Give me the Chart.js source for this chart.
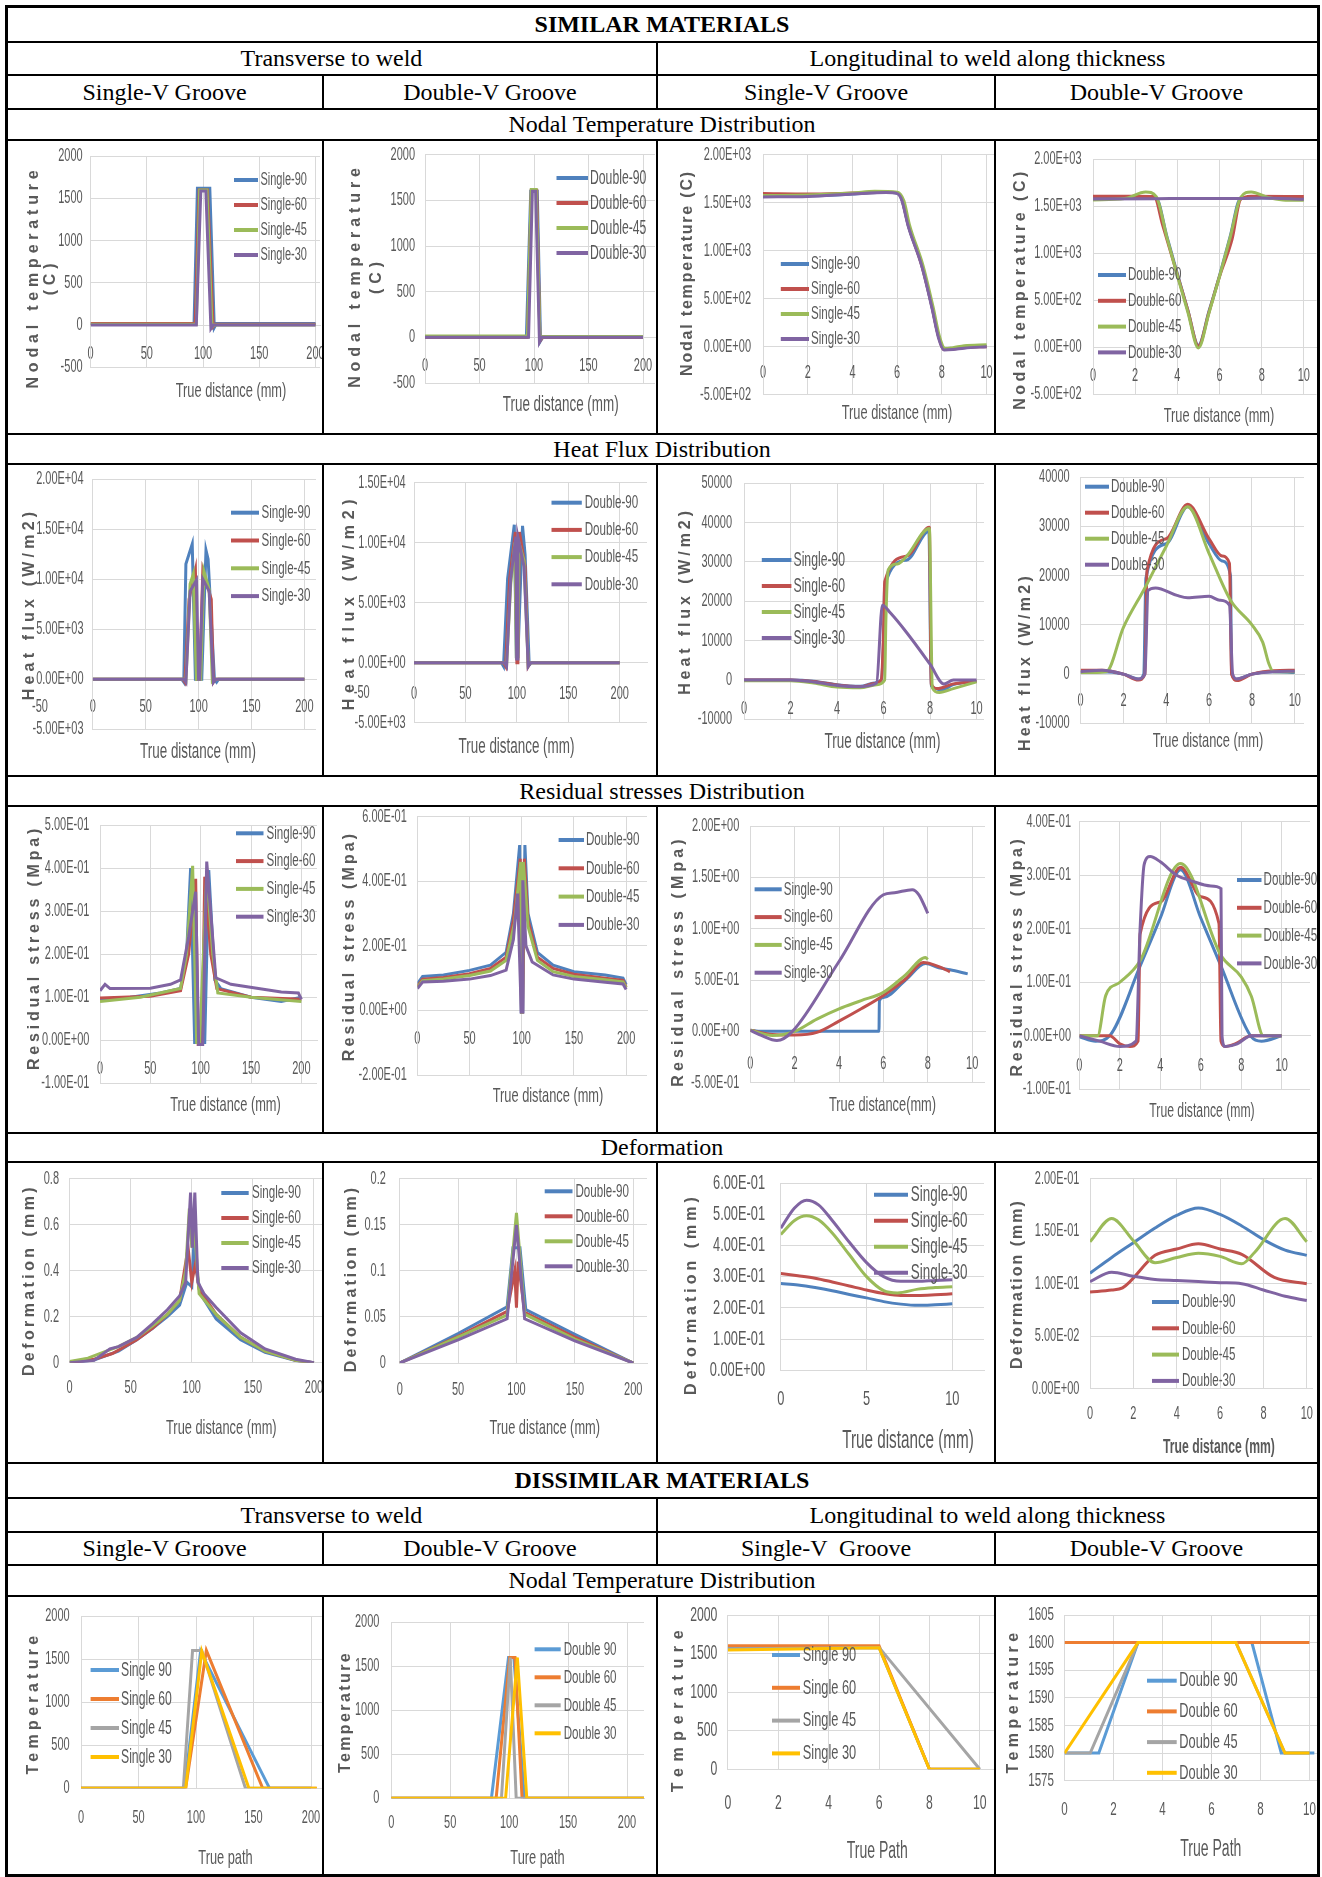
<!DOCTYPE html>
<html>
<head>
<meta charset="utf-8">
<title>Welding simulation results</title>
<script src="https://cdn.jsdelivr.net/npm/chart.js@4.4.1/dist/chart.umd.min.js"></script>
<style>
  html, body { margin: 0; padding: 0; background: #fff; }
  body { position: relative; width: 1322px; height: 1877px; overflow: hidden; }
  canvas { position: absolute; }
  .hl, .vl { position: absolute; background: #000; }
  .cap { position: absolute; text-align: center; font-family: 'Liberation Serif', 'Times New Roman', serif;
         font-size: 24px; color: #000; white-space: pre; }
  .cap.b { font-weight: bold; }
</style>
</head>
<body>
<script>
const FONT = "'Liberation Sans', Arial, sans-serif";
const SQUEEZE = 0.61;   // the sheet's labels are set in a very narrow face
const GRID = '#d9d9d9';
const INK = '#595959';
const OLD = ['#4f81bd', '#c0504d', '#9bbb59', '#8064a2'];
const NEW = ['#5b9bd5', '#ed7d31', '#a5a5a5', '#ffc000'];

const SINGLE = ['Single-90', 'Single-60', 'Single-45', 'Single-30'];
const DOUBLE = ['Double-90', 'Double-60', 'Double-45', 'Double-30'];
const SINGLE_D = ['Single 90', 'Single 60', 'Single 45', 'Single 30'];
const DOUBLE_D = ['Double 90', 'Double 60', 'Double 45', 'Double 30'];

// ---- similar materials : nodal temperature (x, C) ----
const A1_90 = [[0,20],[92,20],[95,1620],[106,1620],[110,-30],[112,20],[200,20]];
const A1_60 = [[0,20],[93,20],[96.5,1600],[104,1600],[109,-20],[111,10],[200,10]];
const A1_45 = [[0,10],[94,10],[97,1600],[103.5,1600],[108,-20],[110,0],[200,0]];
const A1_30 = [[0,0],[94,0],[98,1590],[102.5,1590],[107,-40],[109,0],[200,0]];

const A2_90 = [[0,0],[93,0],[97,1600],[103,1600],[106,-40],[108,0],[200,0]];
const A2_60 = [[0,0],[94,0],[97.5,1610],[102.5,1610],[105.5,-40],[108,0],[200,0]];
const A2_45 = [[0,15],[94,15],[97.5,1620],[102,1620],[105.5,-30],[108,10],[200,10]];
const A2_30 = [[0,0],[95,0],[98.5,1600],[101.5,1600],[105,-50],[107,0],[200,0]];

const A3_90 = [[0,1565],[2,1570],[4,1590],[5.5,1610],[6,1600],[6.2,1540],[6.5,1260],[7.1,850],[7.55,420],[7.85,110],[8.1,-25],[8.5,-20],[9,-5],[10,5]];
const A3_60 = [[0,1595],[2,1590],[4,1600],[5.5,1610],[6,1605],[6.2,1545],[6.5,1265],[7.1,845],[7.55,425],[7.85,105],[8.1,-30],[8.5,-25],[9,-5],[10,0]];
const A3_45 = [[0,1575],[2,1580],[4,1600],[5,1620],[6,1610],[6.3,1520],[6.55,1270],[7.15,850],[7.6,420],[7.9,100],[8.15,-20],[8.5,-10],[9,10],[10,20]];
const A3_30 = [[0,1560],[2,1565],[4,1590],[5.5,1605],[6,1595],[6.2,1530],[6.5,1250],[7.1,840],[7.55,410],[7.85,90],[8.1,-35],[8.5,-30],[9,-15],[10,0]];

const A4_90 = [[0,1580],[1,1580],[2,1585],[3,1580],[3.5,1180],[4,780],[4.5,390],[5,20],[5.5,380],[6,760],[6.5,1170],[7,1580],[8,1585],[9,1580],[10,1575]];
const A4_60 = [[0,1605],[2,1605],[2.9,1600],[3.3,1300],[4,770],[4.5,390],[5,10],[5.5,370],[6,750],[6.6,1150],[7,1570],[7.5,1605],[10,1600]];
const A4_45 = [[0,1565],[1.5,1580],[2.5,1650],[3,1600],[3.5,1170],[4,760],[4.5,370],[5,-10],[5.5,360],[6,750],[6.5,1160],[7,1590],[7.5,1650],[8.3,1590],[9,1565],[10,1560]];
const A4_30 = [[0,1575],[3,1578],[5,1580],[7,1580],[8,1585],[10,1572]];

// ---- similar materials : heat flux (x, W/m2) ----
const B1_90 = [[0,0],[84,0],[86,-300],[88,11500],[94,13500],[97,0],[103,0],[107,12900],[109,12000],[115,0],[117,-300],[119,0],[200,0]];
const B1_60 = [[0,0],[85,0],[87,-300],[91,8000],[97,10900],[99,0],[101,0],[104,10900],[112,8000],[114,-300],[116,0],[200,0]];
const B1_45 = [[0,0],[86,0],[88,-200],[92,9500],[95,10500],[98,0],[102,0],[105,10800],[110,9000],[113,-200],[115,0],[200,0]];
const B1_30 = [[0,0],[86,0],[88,-300],[92,8800],[98,9900],[100,0],[101,0],[104,10000],[110,8800],[114,-300],[116,0],[200,0]];

const B2_90 = [[0,0],[85,0],[87,-300],[91,7000],[97.5,11500],[99.5,500],[101,500],[105.5,11400],[108,9000],[112,-200],[114,0],[200,0]];
const B2_60 = [[0,0],[87,0],[89,-300],[93,7000],[98.5,10900],[100,0],[101,0],[102.5,10900],[108,8000],[111,-300],[113,0],[200,0]];
const B2_45 = [[0,0],[88,0],[90,-200],[94,6500],[98,10000],[99.5,500],[101,500],[102,10000],[107,8500],[111,-200],[113,0],[200,0]];
const B2_30 = [[0,0],[88,0],[90,-300],[94,7000],[99,10500],[99.8,300],[100.5,300],[101,10500],[107,8000],[111,-300],[113,0],[200,0]];

const B3_90 = [[0,0],[2,0],[3,-300],[4,-1200],[5,-1600],[5.6,-800],[5.9,0],[6,10000],[6.05,24000],[7,30500],[7.95,37800],[8.05,-1500],[8.5,-2500],[9,-1200],[10,-300]];
const B3_60 = [[0,0],[2,0],[3,-400],[4,-1300],[5,-1700],[5.6,-900],[5.9,0],[6,12000],[6.05,25000],[7,31500],[7.97,38800],[8.05,-1000],[8.3,-2200],[9,-1000],[10,-300]];
const B3_45 = [[0,-200],[2,-200],[3,-800],[4,-1800],[5,-2000],[5.7,-1200],[6.05,0],[6.1,15000],[6.2,28000],[6.6,29500],[7,31500],[7.97,38500],[8.1,-2000],[8.4,-3200],[9,-2200],[10,-500]];
const B3_30 = [[0,0],[2,0],[3,-500],[4,-1400],[5,-1700],[5.7,-800],[5.95,19000],[6.3,17000],[7,12000],[8,4000],[8.6,-1000],[9,0],[10,0]];

const B4_90 = [[0,300],[1,500],[2,0],[2.7,-1000],[2.95,0],[3.05,19500],[4,26500],[5,34000],[6,26500],[6.6,23000],[7,20000],[7.05,0],[7.3,-1000],[8,0],[9,500],[10,300]];
const B4_60 = [[0,800],[1,800],[2,0],[2.7,-1200],[3,0],[3.1,21000],[4,27500],[5,34500],[6,27500],[6.6,24000],[6.95,22500],[7.05,0],[7.3,-1300],[8,0],[9,700],[10,800]];
const B4_45 = [[0,300],[1.2,500],[2,9500],[3,17500],[4,26000],[5,34000],[6,24500],[7,15000],[8,10000],[8.5,6500],[8.8,2000],[9,500],[10,500]];
const B4_30 = [[0,500],[1,800],[2,0],[2.7,-1000],[3,0],[3.15,17000],[3.5,17500],[4.5,16000],[5,15500],[6,15800],[6.5,15000],[6.95,14000],[7.1,0],[7.3,-1000],[8,0],[9,500],[10,600]];

// ---- similar materials : residual stress (x, MPa) ----
const C1_90 = [[0,0.095],[30,0.1],[60,0.11],[80,0.12],[86,0.2],[90,0.4],[94,-0.005],[104,-0.005],[108,0.395],[114,0.14],[120,0.12],[150,0.1],[180,0.09],[200,0.1]];
const C1_60 = [[0,0.098],[50,0.102],[80,0.115],[88,0.2],[95,0.375],[97.5,-0.01],[101.5,-0.01],[104,0.38],[110,0.2],[116,0.12],[150,0.1],[200,0.095]];
const C1_45 = [[0,0.09],[40,0.1],[80,0.12],[86,0.2],[92,0.405],[96,-0.005],[99,-0.005],[106,0.385],[112,0.2],[117,0.11],[150,0.1],[200,0.09]];
const C1_30 = [[0,0.115],[5,0.13],[10,0.12],[50,0.121],[70,0.13],[80,0.14],[88,0.24],[95,0.345],[98,-0.01],[102,-0.01],[106,0.415],[115,0.145],[130,0.13],[180,0.112],[197,0.11],[200,0.095]];

const C2_90 = [[0,0.083],[5,0.105],[25,0.11],[50,0.124],[70,0.14],[85,0.18],[92,0.3],[98,0.512],[99.5,-0.005],[101,-0.005],[103,0.512],[106,0.3],[115,0.18],[130,0.14],[150,0.12],[180,0.11],[197,0.1],[200,0.08]];
const C2_60 = [[0,0.075],[5,0.097],[25,0.102],[50,0.114],[70,0.13],[85,0.165],[92,0.28],[98.5,0.47],[99.7,-0.005],[100.8,-0.005],[102.5,0.47],[106,0.28],[115,0.165],[130,0.13],[150,0.112],[180,0.1],[197,0.093],[200,0.072]];
const C2_45 = [[0,0.072],[5,0.092],[25,0.097],[50,0.108],[70,0.122],[85,0.155],[93,0.27],[99,0.46],[99.8,-0.005],[100.6,-0.005],[101.5,0.46],[106,0.26],[115,0.155],[130,0.12],[150,0.105],[180,0.095],[197,0.088],[200,0.07]];
const C2_30 = [[0,0.068],[5,0.088],[25,0.09],[50,0.097],[70,0.108],[85,0.125],[92,0.22],[96,0.362],[99.5,-0.005],[100.3,-0.005],[101,0.403],[104,0.2],[110,0.15],[130,0.11],[150,0.097],[180,0.087],[197,0.082],[200,0.065]];

const C3_90 = [[0,0.01],[0.5,0],[2,0],[4,0],[5.8,0],[5.82,0.3],[6,0.33],[7,0.5],[7.9,0.66],[8.5,0.62],[9,0.6],[9.8,0.56]];
const C3_60 = [[0,0.01],[1,-0.03],[2,-0.035],[3,-0.01],[4,0.1],[5,0.22],[6,0.35],[7,0.51],[7.8,0.67],[8.5,0.63],[9,0.58]];
const C3_45 = [[0,0.01],[1,-0.04],[2,0],[3,0.12],[4,0.22],[5,0.3],[6,0.38],[7,0.55],[7.9,0.72],[8,0.7]];
const C3_30 = [[0,0.01],[0.5,-0.04],[1.2,-0.09],[1.9,0],[4,0.68],[6,1.33],[6.5,1.35],[7.3,1.38],[7.6,1.33],[8,1.15]];

const C4_90 = [[0,-0.002],[0.8,-0.01],[1.5,0],[3,0.13],[4,0.22],[5,0.31],[6,0.22],[7,0.13],[8.5,-0.002],[9,-0.01],[10,0]];
const C4_60 = [[0,0],[1.5,0],[2,-0.015],[2.5,-0.02],[2.9,-0.01],[3,0.19],[4,0.25],[5,0.315],[6,0.26],[6.9,0.21],[7,-0.01],[7.2,-0.02],[7.7,-0.015],[8.5,0],[10,0]];
const C4_45 = [[0,0],[0.9,0],[1.3,0.075],[2,0.1],[3,0.14],[5,0.322],[7,0.15],[8,0.11],[8.5,0.074],[9.1,0],[10,0]];
const C4_30 = [[0,0],[1,-0.01],[2,-0.02],[2.8,-0.01],[3,0.2],[3.2,0.32],[3.5,0.335],[4,0.325],[4.8,0.3],[5.5,0.29],[6.5,0.28],[7,0.275],[7.05,0],[7.2,-0.02],[7.8,-0.015],[8.5,0],[10,0]];

// ---- similar materials : deformation (x, mm) ----
const D1_90 = [[0,0],[20,0.012],[40,0.05],[55,0.1],[68,0.15],[80,0.2],[90,0.25],[96,0.35],[100,0.33],[102,0.55],[104,0.4],[107,0.3],[120,0.19],[140,0.1],[160,0.045],[185,0.01],[200,0]];
const D1_60 = [[0,0],[20,0.015],[35,0.04],[55,0.1],[68,0.15],[80,0.21],[90,0.27],[97,0.5],[100,0.35],[103,0.43],[106,0.32],[120,0.21],[140,0.11],[160,0.05],[185,0.01],[200,0]];
const D1_45 = [[0,0.005],[15,0.02],[30,0.05],[40,0.07],[55,0.11],[68,0.16],[80,0.21],[90,0.27],[95,0.4],[98,0.67],[100,0.5],[102,0.6],[106,0.3],[120,0.21],[140,0.11],[160,0.05],[185,0.01],[200,0]];
const D1_30 = [[0,0],[20,0.01],[33,0.06],[40,0.07],[55,0.11],[68,0.17],[80,0.23],[90,0.29],[95,0.35],[99,0.74],[100.5,0.5],[102.5,0.74],[105,0.35],[110,0.3],[120,0.24],[140,0.13],[160,0.06],[185,0.015],[200,0]];

const D2_90 = [[0,0],[50,0.032],[92,0.061],[97,0.125],[103,0.125],[108,0.058],[150,0.031],[200,0]];
const D2_60 = [[0,0],[50,0.029],[92,0.056],[98.5,0.1],[100,0.06],[101.5,0.11],[107,0.055],[150,0.028],[200,0]];
const D2_45 = [[0,0],[50,0.028],[92,0.052],[100,0.163],[107,0.053],[150,0.026],[200,0]];
const D2_30 = [[0,0],[50,0.025],[92,0.048],[100,0.15],[107,0.048],[150,0.024],[200,0]];

const D3_90 = [[0,0.278],[1,0.273],[2,0.265],[3,0.255],[4,0.243],[5,0.232],[6,0.22],[7,0.212],[8,0.208],[9,0.21],[10,0.213]];
const D3_60 = [[0,0.31],[1,0.303],[2,0.295],[3,0.283],[4,0.27],[5,0.257],[6,0.246],[7,0.24],[8,0.24],[9,0.242],[10,0.245]];
const D3_45 = [[0,0.435],[0.8,0.48],[1.5,0.495],[2.2,0.482],[3,0.44],[4,0.37],[5,0.3],[6,0.255],[6.8,0.248],[8,0.26],[9,0.265],[10,0.268]];
const D3_30 = [[0,0.455],[0.8,0.52],[1.5,0.545],[2.2,0.53],[3,0.48],[4,0.41],[5,0.345],[6,0.3],[7,0.285],[8,0.285],[9,0.288],[10,0.29]];

const D4_90 = [[0,0.11],[1,0.125],[2,0.139],[3,0.153],[4,0.165],[5,0.172],[6,0.166],[7,0.155],[8,0.142],[9,0.132],[10,0.127]];
const D4_60 = [[0,0.092],[1,0.094],[1.5,0.096],[3,0.127],[4,0.133],[5,0.138],[6,0.133],[7,0.128],[8.5,0.106],[10,0.1]];
const D4_45 = [[0,0.14],[1,0.162],[2,0.141],[3,0.12],[4,0.125],[5,0.129],[6,0.126],[7,0.119],[7.6,0.13],[9,0.162],[10,0.14]];
const D4_30 = [[0,0.102],[1,0.111],[2,0.107],[3,0.104],[4,0.103],[5,0.102],[6,0.101],[7,0.1],[8,0.094],[9,0.088],[10,0.084]];

// ---- dissimilar materials : temperature along path ----
const E1_90 = [[0,0],[90,0],[104,1590],[164,0],[200,0]];
const E1_60 = [[0,0],[91,0],[109,1600],[158,0],[205,0]];
const E1_45 = [[0,0],[89,0],[97,1600],[105,1600],[143,0],[200,0]];
const E1_30 = [[0,0],[91,0],[105,1590],[146,0],[205,0]];

const E2_90 = [[0,0],[85,0],[99.5,1600],[104,1600],[113,0],[215,0]];
const E2_60 = [[0,0],[89,0],[100.5,1600],[105,1600],[111,0],[215,0]];
const E2_45 = [[0,0],[93.5,0],[101,1600],[106,0],[113,0],[215,0]];
const E2_30 = [[0,0],[97,0],[107,1600],[115,0],[215,0]];

const E3_90 = [[0,1565],[6,1580],[8,0],[10,0]];
const E3_60 = [[0,1600],[6,1600],[8,0],[10,0]];
const E3_45 = [[0,1560],[6,1580],[10,0]];
const E3_30 = [[0,1545],[6,1575],[8,0],[10,0]];

const E4_90 = [[0,1580],[1.4,1580],[3,1600],[7.65,1600],[8.85,1580],[10.2,1580]];
const E4_60 = [[0,1600],[10,1600]];
const E4_45 = [[0,1580],[1.05,1580],[3,1600],[7,1600],[9,1580],[10,1580]];
const E4_30 = [[0,1580],[3,1600],[7,1600],[9,1580],[10,1580]];

// ---- page layout (table cells) ----
const COLS = [[6, 323], [323, 657], [657, 995], [995, 1318]];
const ROWS = [[140, 434], [464, 776], [806, 1133], [1162, 1463], [1596, 1875]];

const CAPTIONS = [
  [6, 42, [[6, 1318, 'SIMILAR MATERIALS', true]]],
  [42, 75, [[6, 657, 'Transverse to weld'], [657, 1318, 'Longitudinal to weld along thickness']]],
  [75, 109, [[6, 323, 'Single-V Groove'], [323, 657, 'Double-V Groove'], [657, 995, 'Single-V Groove'], [995, 1318, 'Double-V Groove']]],
  [109, 140, [[6, 1318, 'Nodal Temperature Distribution']]],
  [434, 464, [[6, 1318, 'Heat Flux Distribution']]],
  [776, 806, [[6, 1318, 'Residual stresses Distribution']]],
  [1133, 1162, [[6, 1318, 'Deformation']]],
  [1463, 1498, [[6, 1318, 'DISSIMILAR MATERIALS', true]]],
  [1498, 1532, [[6, 657, 'Transverse to weld'], [657, 1318, 'Longitudinal to weld along thickness']]],
  [1532, 1565, [[6, 323, 'Single-V Groove'], [323, 657, 'Double-V Groove'], [657, 995, 'Single-V  Groove'], [995, 1318, 'Double-V Groove']]],
  [1565, 1596, [[6, 1318, 'Nodal Temperature Distribution']]]
];
const H_LINES = [6, 42, 75, 109, 140, 434, 464, 776, 806, 1133, 1162, 1463, 1498, 1532, 1565, 1596, 1875];
const MID_SEGS = [[42, 109], [140, 434], [464, 776], [806, 1133], [1162, 1463], [1498, 1565], [1596, 1875]];
const QUARTER_SEGS = [[75, 109], [140, 434], [464, 776], [806, 1133], [1162, 1463], [1532, 1565], [1596, 1875]];

function sci(v) {
  if (Math.abs(v) < 1e-9) return '0.00E+00';
  let e = Math.floor(Math.log10(Math.abs(v)));
  let m = v / Math.pow(10, e);
  if (Math.abs(m) >= 9.995) { e++; m /= 10; }
  return m.toFixed(2) + 'E' + (e < 0 ? '-' : '+') + String(Math.abs(e)).padStart(2, '0');
}
function plain(v) { return String(+v.toFixed(4)); }

const CHARTS = [
  { col: 0, row: 0, series: [A1_90, A1_60, A1_45, A1_30], names: SINGLE, colors: OLD,
    x: [204, 50], y: [-500, 2000, 500], fmt: plain, box: [84.6, 16.3, 314, 227.3], ypad: 8, xlab: 29.3,
    yt: { lines: ['Nodal temperature', '(C)'], x: [27.7, 44.6], y: 137, ls: 4.8 },
    xt: { text: 'True distance (mm)', x: 225, y: 251 }, lg: { x0: 228, x1: 252, t: 254.5, y: 40, dy: 25 } },
  { col: 1, row: 0, series: [A2_90, A2_60, A2_45, A2_30], names: DOUBLE, colors: OLD,
    x: [211, 50], y: [-500, 2000, 500], fmt: plain, box: [102, 14.7, 332, 243], ypad: 10, xlab: 28.7,
    yt: { lines: ['Nodal temperature', '(C)'], x: [33, 53.5], y: 135.5, ls: 4.9 },
    xt: { text: 'True distance (mm)', x: 237.7, y: 264.7, size: 22 }, lg: { x0: 233.5, x1: 265, t: 267, y: 38, dy: 25, size: 20 } },
  { col: 2, row: 0, series: [A3_90, A3_60, A3_45, A3_30], names: SINGLE, colors: OLD, smooth: true,
    x: [10.33, 2], y: [-500, 2000, 500], fmt: sci, box: [106, 14.7, 337, 254.7], ypad: 12, xlab: 26,
    yt: { lines: ['Nodal temperature (C)'], x: [30.6], y: 133, ls: 1.8 },
    xt: { text: 'True distance (mm)', x: 240, y: 273 }, lg: { x0: 123.8, x1: 152, t: 154, y: 124, dy: 25, size: 19 } },
  { col: 3, row: 0, series: [A4_90, A4_60, A4_45, A4_30], names: DOUBLE, colors: OLD, smooth: true,
    x: [10.6, 2], y: [-500, 2000, 500], fmt: sci, box: [98, 19, 321.5, 254], ypad: 11.5, xlab: 29.3,
    yt: { lines: ['Nodal temperature (C)'], x: [26], y: 149, ls: 3.5 },
    xt: { text: 'True distance (mm)', x: 224, y: 276 }, lg: { x0: 103, x1: 131, t: 133, y: 135, dy: 25.8, size: 19 } },

  { col: 0, row: 1, series: [B1_90, B1_60, B1_45, B1_30], names: SINGLE, colors: OLD,
    x: [211, 50], y: [-5000, 20000, 5000], fmt: sci, box: [86.8, 15, 310, 265.3], ypad: 9.3, xlab: 27.7,
    yt: { lines: ['Heat flux (W/m2)'], x: [23.5], y: 140, ls: 4.2 }, extra: [['-50', 34, 242.7]],
    xt: { text: 'True distance (mm)', x: 192, y: 287.7, size: 22 }, lg: { x0: 225, x1: 253, t: 255.4, y: 48.7, dy: 27.8, size: 19 } },
  { col: 1, row: 1, series: [B2_90, B2_60, B2_45, B2_30], names: DOUBLE, colors: OLD,
    x: [226.5, 50], y: [-5000, 15000, 5000], fmt: sci, box: [91, 18.7, 324, 258.7], ypad: 8.4, xlab: 31,
    yt: { lines: ['Heat flux (W/m2)'], x: [27], y: 138, ls: 5.7 }, extra: [['-50', 38.7, 229.3]],
    xt: { text: 'True distance (mm)', x: 193.5, y: 282.7, size: 22 }, lg: { x0: 228.5, x1: 258.8, t: 261.7, y: 38.7, dy: 27.2, size: 19 } },
  { col: 2, row: 1, series: [B3_90, B3_60, B3_45, B3_30], names: SINGLE, colors: OLD, smooth: true,
    x: [10.32, 2], y: [-10000, 50000, 10000], fmt: plain, box: [87, 19.3, 327, 255.3], ypad: 12, xlab: 29,
    yt: { lines: ['Heat flux (W/m2)'], x: [28.5], y: 137, ls: 3.9 },
    xt: { text: 'True distance (mm)', x: 225.5, y: 277.7, size: 22 }, lg: { x0: 104.8, x1: 134.4, t: 136.5, y: 96, dy: 26, size: 20 } },
  { col: 3, row: 1, series: [B4_90, B4_60, B4_45, B4_30], names: DOUBLE, colors: OLD, smooth: true,
    x: [10.43, 2], y: [-10000, 40000, 10000], fmt: plain, box: [85.6, 13.3, 309, 259.3], ypad: 11, xlab: 26.7,
    yt: { lines: ['Heat flux (W/m2)'], x: [30.6], y: 198, ls: 3.3 },
    xt: { text: 'True distance (mm)', x: 213, y: 277.7 }, lg: { x0: 90, x1: 114, t: 116, y: 22.7, dy: 26, size: 19 } },

  { col: 0, row: 2, series: [C1_90, C1_60, C1_45, C1_30], names: SINGLE, colors: OLD,
    x: [215.5, 50], y: [-0.1, 0.5, 0.1], fmt: sci, box: [94, 19, 311, 277.3], ypad: 10.6, xlab: 28.4,
    yt: { lines: ['Residual stress (Mpa)'], x: [28.6], y: 141.5, ls: 3.8 },
    xt: { text: 'True distance (mm)', x: 219.5, y: 299 }, lg: { x0: 230, x1: 257.5, t: 260.5, y: 27.3, dy: 27.8, size: 19 } },
  { col: 1, row: 2, series: [C2_90, C2_60, C2_45, C2_30], names: DOUBLE, colors: OLD,
    x: [220, 50], y: [-0.2, 0.6, 0.2], fmt: sci, box: [94.4, 10.7, 324, 269], ypad: 10.6, xlab: 28.3,
    yt: { lines: ['Residual stress (Mpa)'], x: [27], y: 140, ls: 3.1 },
    xt: { text: 'True distance (mm)', x: 225, y: 290.7 }, lg: { x0: 235.6, x1: 261, t: 263, y: 34, dy: 28.3, size: 19 } },
  { col: 2, row: 2, series: [C3_90, C3_60, C3_45, C3_30], names: SINGLE, colors: OLD, smooth: true,
    x: [10.58, 2], y: [-0.5, 2.0, 0.5], fmt: sci, box: [93.3, 20, 328, 276.7], ypad: 11, xlab: 32.6,
    yt: { lines: ['Residual stress (Mpa)'], x: [22], y: 155, ls: 4.1 },
    xt: { text: 'True distance(mm)', x: 225.5, y: 299 }, lg: { x0: 97.6, x1: 124.7, t: 126.8, y: 83.3, dy: 27.8, size: 19 } },
  { col: 3, row: 2, series: [C4_90, C4_60, C4_45, C4_30], names: DOUBLE, colors: OLD, smooth: true,
    x: [11.4, 2], y: [-0.1, 0.4, 0.1], fmt: sci, box: [84.4, 15.7, 315, 283.3], ypad: 8.4, xlab: 30.7,
    yt: { lines: ['Residual stress (Mpa)'], x: [23], y: 150, ls: 3.6 },
    xt: { text: 'True distance (mm)', x: 207, y: 305.7, size: 20 }, lg: { x0: 242, x1: 266.5, t: 268.6, y: 74, dy: 27.8, size: 19 } },

  { col: 0, row: 3, series: [D1_90, D1_60, D1_45, D1_30], names: SINGLE, colors: OLD,
    x: [207, 50], y: [0, 0.8, 0.2], fmt: plain, box: [63.6, 16.7, 316.5, 200.7], ypad: 10.6, xlab: 25.3,
    yt: { lines: ['Deformation (mm)'], x: [23.5], y: 118, ls: 3.4 },
    xt: { text: 'True distance (mm)', x: 215.3, y: 266 }, lg: { x0: 215.3, x1: 242.7, t: 246, y: 31, dy: 25, size: 19 } },
  { col: 1, row: 3, series: [D2_90, D2_60, D2_45, D2_30], names: DOUBLE, colors: OLD,
    x: [211.8, 50], y: [0, 0.2, 0.05], fmt: plain, box: [76.7, 16.7, 324, 201], ypad: 13.9, xlab: 26.7,
    yt: { lines: ['Deformation (mm)'], x: [29], y: 116.5, ls: 3.1 },
    xt: { text: 'True distance (mm)', x: 221.7, y: 266 }, lg: { x0: 221.7, x1: 249.5, t: 252.5, y: 29.3, dy: 25, size: 19 } },
  { col: 2, row: 3, series: [D3_90, D3_60, D3_45, D3_30], names: SINGLE, colors: OLD, smooth: true, fs: 21,
    x: [11.85, 5], y: [0, 0.6, 0.1], fmt: sci, box: [123.8, 21, 327, 208.3], ypad: 15.8, xlab: 29.4,
    yt: { lines: ['Deformation (mm)'], x: [35], y: 132, ls: 4 },
    xt: { text: 'True distance (mm)', x: 251, y: 279.3, size: 25 }, lg: { x0: 217, x1: 251, t: 253.8, y: 32.7, dy: 26, size: 22 } },
  { col: 3, row: 3, series: [D4_90, D4_60, D4_45, D4_30], names: DOUBLE, colors: OLD, smooth: true,
    x: [10.24, 2], y: [0, 0.2, 0.05], fmt: sci, box: [95, 16.7, 317, 226.7], ypad: 10.6, xlab: 25.3,
    yt: { lines: ['Deformation (mm)'], x: [23], y: 122, ls: 2 },
    xt: { text: 'True distance (mm)', x: 224, y: 285.3, bold: true, size: 20 }, lg: { x0: 157, x1: 184, t: 187, y: 140, dy: 26.3, size: 19 } },

  { col: 0, row: 4, series: [E1_90, E1_60, E1_45, E1_30], names: SINGLE_D, colors: NEW,
    x: [210, 50], y: [0, 2000, 500], fmt: plain, box: [75, 20, 316.5, 192.3], ypad: 11.4, xlab: 30,
    yt: { lines: ['Temperature'], x: [27.7], y: 107, ls: 4.3 },
    xt: { text: 'True path', x: 219.5, y: 262.3 }, lg: { x0: 84.6, x1: 113, t: 115, y: 74, dy: 29, size: 20 } },
  { col: 1, row: 4, series: [E2_90, E2_60, E2_45, E2_30], names: DOUBLE_D, colors: NEW,
    x: [214.4, 50], y: [0, 2000, 500], fmt: plain, box: [68.2, 26.3, 321, 202.3], ypad: 11.8, xlab: 25,
    yt: { lines: ['Temperature'], x: [22.7], y: 116, ls: 2.4 },
    xt: { text: 'Ture path', x: 214.5, y: 262.3 }, lg: { x0: 211.6, x1: 237.7, t: 240.7, y: 53.3, dy: 28, size: 19 } },
  { col: 2, row: 4, series: [E3_90, E3_60, E3_45, E3_30], names: SINGLE_D, colors: NEW, fs: 20,
    x: [10.59, 2], y: [0, 2000, 500], fmt: plain, box: [70.9, 19, 337.7, 173.3], ypad: 10.6, xlab: 34,
    yt: { lines: ['Temperature'], x: [22], y: 112, ls: 6.6 },
    xt: { text: 'True Path', x: 220.2, y: 255.7, size: 23 }, lg: { x0: 115, x1: 143, t: 145.8, y: 59, dy: 32.8, size: 21 } },
  { col: 3, row: 4, series: [E4_90, E4_60, E4_45, E4_30], names: DOUBLE_D, colors: NEW, fs: 19,
    x: [10.35, 2], y: [1575, 1605, 5], fmt: plain, box: [69.5, 19, 323, 184.7], ypad: 10.5, xlab: 29.3,
    yt: { lines: ['Temperature'], x: [18.7], y: 105, ls: 4.5 },
    xt: { text: 'True Path', x: 215.8, y: 254, size: 23 }, lg: { x0: 152, x1: 181.7, t: 184.3, y: 84.7, dy: 30.7, size: 21 } }
];

// narrow every label drawn on this context, the way the source figure's face looks
function squeezeText(ctx) {
  const raw = ctx.fillText.bind(ctx);
  ctx.rawFillText = raw;
  ctx.fillText = (text, x, y, maxWidth) => {
    const w = ctx.measureText(text).width * SQUEEZE;
    raw(text, x, y, maxWidth === undefined ? w : Math.min(w, maxWidth));
  };
}

// axis titles, legend and stray tick labels placed where the source sheet had them
function overlay(c) {
  return {
    id: 'overlay',
    afterDraw(chart) {
      const ctx = chart.ctx;
      ctx.save();
      ctx.fillStyle = INK;
      ctx.textAlign = 'center';
      ctx.textBaseline = 'middle';

      ctx.font = 'bold 16px ' + FONT;
      if ('letterSpacing' in ctx) ctx.letterSpacing = c.yt.ls + 'px';
      c.yt.lines.forEach((line, i) => {
        ctx.save();
        ctx.translate(c.yt.x[i], c.yt.y);
        ctx.rotate(-Math.PI / 2);
        ctx.rawFillText(line, 0, 0);
        ctx.restore();
      });
      if ('letterSpacing' in ctx) ctx.letterSpacing = '0px';

      ctx.font = (c.xt.bold ? 'bold ' : '') + (c.xt.size || 21) + 'px ' + FONT;
      ctx.fillText(c.xt.text, c.xt.x, c.xt.y);

      ctx.font = (c.fs || 18) + 'px ' + FONT;
      (c.extra || []).forEach(([t, x, y]) => ctx.fillText(t, x, y));

      ctx.font = (c.lg.size || 18) + 'px ' + FONT;
      ctx.textAlign = 'left';
      chart.data.datasets.forEach((ds, i) => {
        const y = c.lg.y + i * c.lg.dy;
        ctx.strokeStyle = ds.borderColor;
        ctx.lineWidth = 4;
        ctx.beginPath();
        ctx.moveTo(c.lg.x0, y);
        ctx.lineTo(c.lg.x1, y);
        ctx.stroke();
        ctx.fillText(ds.label, c.lg.t, y);
      });
      ctx.restore();
    }
  };
}

function makeChart(c) {
  const [x0, x1] = COLS[c.col];
  const [y0, y1] = ROWS[c.row];
  const W = x1 - x0, H = y1 - y0;
  const [L, T, R, B] = c.box;
  const fs = c.fs || 18;
  const cv = document.createElement('canvas');
  cv.width = W; cv.height = H;
  cv.style.left = x0 + 'px'; cv.style.top = y0 + 'px';
  cv.style.width = W + 'px'; cv.style.height = H + 'px';
  document.body.appendChild(cv);
  const ctx = cv.getContext('2d');
  squeezeText(ctx);
  const tickFont = { family: FONT, size: fs };

  new Chart(ctx, {
    type: 'line',
    data: {
      datasets: c.series.map((s, i) => ({
        label: c.names[i],
        data: s.map(([x, y]) => ({ x, y })),
        borderColor: c.colors[i],
        borderWidth: 3,
        pointRadius: 0,
        fill: false,
        tension: 0,
        cubicInterpolationMode: c.smooth ? 'monotone' : 'default',
        order: c.series.length - i
      }))
    },
    options: {
      responsive: false,
      animation: false,
      events: [],
      layout: { padding: { left: 0, top: T, right: W - R, bottom: H - B } },
      plugins: { legend: { display: false }, tooltip: { enabled: false } },
      scales: {
        x: {
          type: 'linear', min: 0, max: c.x[0],
          position: { y: c.y[0] < 0 ? 0 : c.y[0] },
          ticks: { stepSize: c.x[1], autoSkip: false, includeBounds: false, maxRotation: 0,
                   padding: c.xlab - 0.6 * fs, font: tickFont, color: INK, callback: plain },
          grid: { color: GRID, drawTicks: false },
          border: { color: GRID },
          afterFit(s) { s.paddingLeft = 0; s.paddingRight = 0; }
        },
        y: {
          type: 'linear', min: c.y[0], max: c.y[1],
          ticks: { stepSize: c.y[2], padding: c.ypad, font: tickFont, color: INK, callback: c.fmt },
          grid: { color: GRID, drawTicks: false },
          border: { color: GRID },
          afterFit(s) { s.width = L; s.paddingTop = 0; s.paddingBottom = 0; }
        }
      }
    },
    plugins: [overlay(c)]
  });
}

CHARTS.forEach(makeChart);

// table text and rules
function el(cls, css, text) {
  const d = document.createElement('div');
  d.className = cls;
  Object.assign(d.style, css);
  if (text) d.textContent = text;
  document.body.appendChild(d);
}
CAPTIONS.forEach(([ya, yb, cells]) => {
  cells.forEach(([xa, xb, text, bold]) => {
    el('cap' + (bold ? ' b' : ''), { left: xa + 'px', width: (xb - xa) + 'px', top: ya + 'px',
      height: (yb - ya) + 'px', lineHeight: (yb - ya) + 'px' }, text);
  });
});
H_LINES.forEach((y, i) => {
  const t = (i === 0 || i === H_LINES.length - 1) ? 3 : 2;
  el('hl', { left: '5px', width: '1315px', top: (y - 1) + 'px', height: t + 'px' });
});
[6, 1318].forEach(x => el('vl', { left: (x - 1) + 'px', width: '3px', top: '5px', height: '1872px' }));
MID_SEGS.forEach(([a, b]) => el('vl', { left: '656px', width: '2px', top: a + 'px', height: (b - a) + 'px' }));
QUARTER_SEGS.forEach(([a, b]) => {
  [323, 995].forEach(x => el('vl', { left: (x - 1) + 'px', width: '2px', top: a + 'px', height: (b - a) + 'px' }));
});
</script>
</body>
</html>
